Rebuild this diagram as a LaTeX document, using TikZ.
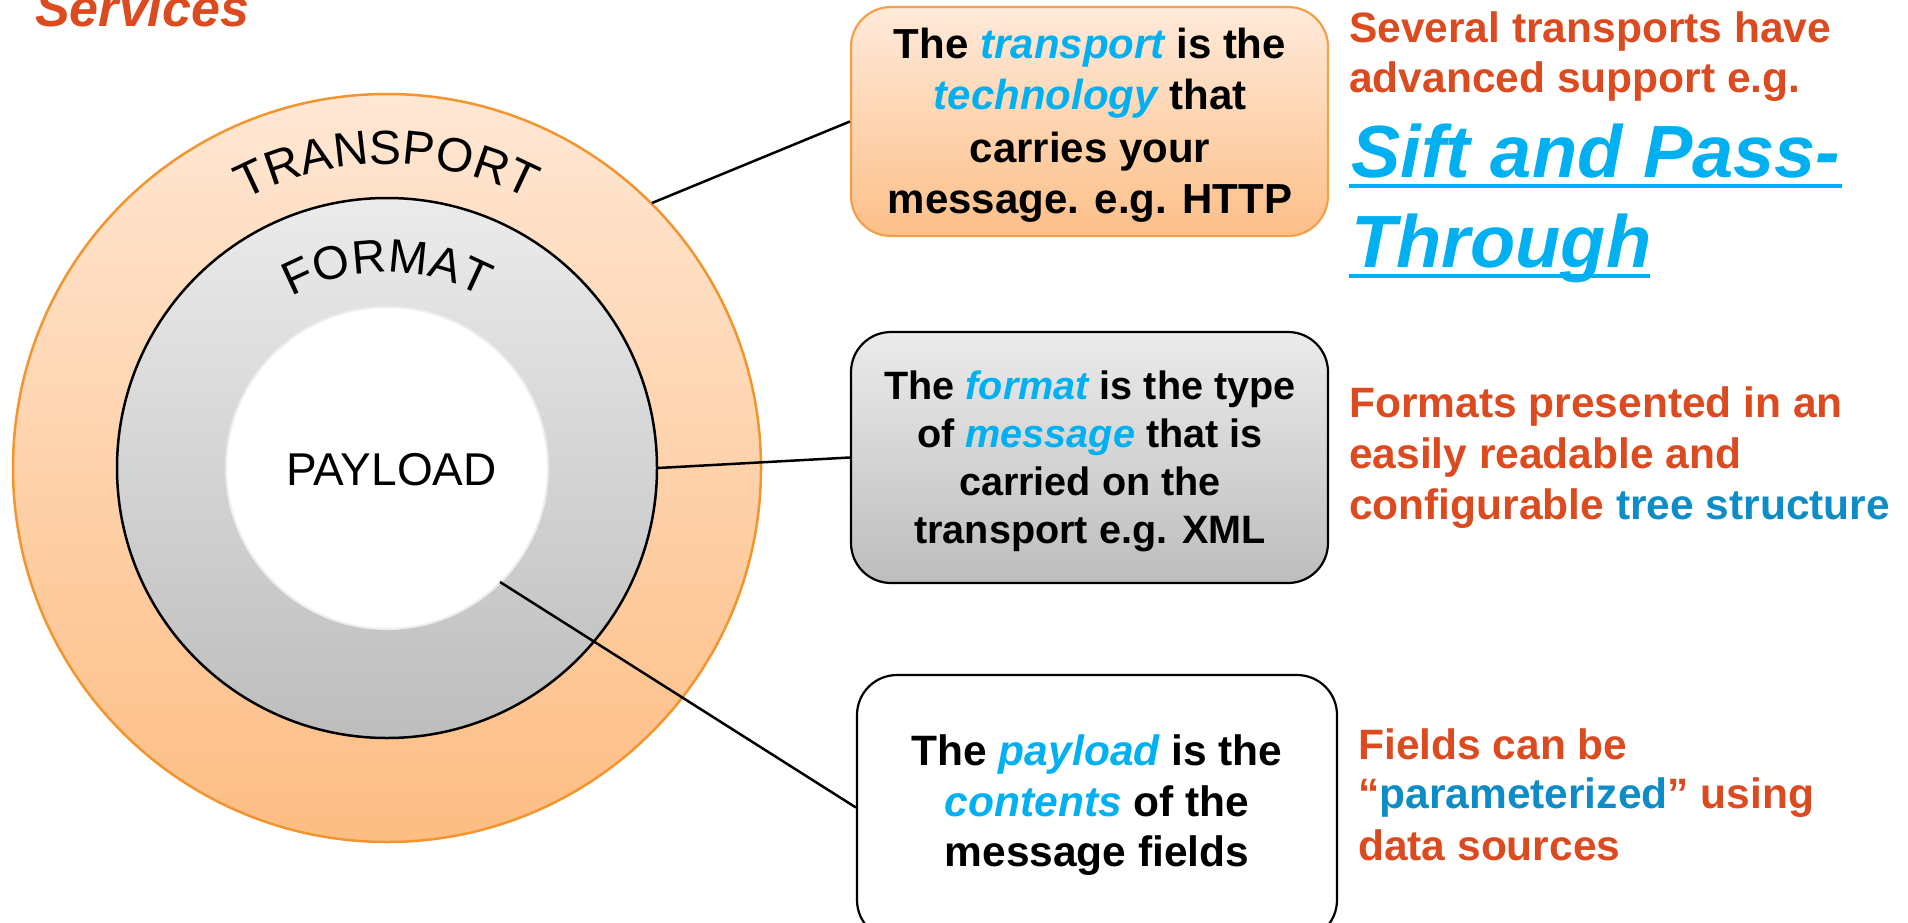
\documentclass[tikz,border=0pt]{standalone}
\usepackage{fontspec}
\setmainfont{Liberation Sans}
\usetikzlibrary{decorations.text}
\definecolor{orangeT}{HTML}{DC4A1F}
\definecolor{cyanT}{HTML}{00B0F0}
\definecolor{blueT}{HTML}{0D8CC6}
\definecolor{ringStroke}{HTML}{F2952F}
\definecolor{ringTop}{HTML}{FFE7D4}
\definecolor{ringBot}{HTML}{FDBD83}
\definecolor{grayTop}{HTML}{EBEBEB}
\definecolor{grayBot}{HTML}{BDBDBD}
\definecolor{tboxTop}{HTML}{FFEADA}
\definecolor{tboxBot}{HTML}{FCBF88}
\definecolor{tboxStroke}{HTML}{F2A04A}
\newcommand\hlc[1]{\textcolor{cyanT}{\itshape #1}}
\newcommand\hlb[1]{\textcolor{blueT}{#1}}
\begin{document}
\begin{tikzpicture}[x=1pt,y=-1pt,
  conn/.style={draw=black, line width=2.5pt},
  boxshape/.style={rectangle, rounded corners=40pt, line width=2.2pt, inner sep=0pt},
  boxtxt/.style={anchor=base, inner sep=0pt, font=\fontsize{42}{42}\selectfont\bfseries},
  fmttxt/.style={anchor=base, inner sep=0pt, font=\fontsize{39.6}{39.6}\selectfont\bfseries},
  paytxt/.style={anchor=base, inner sep=0pt, font=\fontsize{42.5}{42.5}\selectfont\bfseries},
  sidetxt/.style={anchor=base west, inner sep=0pt, text=orangeT, font=\fontsize{42.5}{42.5}\selectfont\bfseries},
  bigtxt/.style={anchor=base west, inner sep=0pt, text=cyanT, font=\fontsize{74}{74}\selectfont\bfseries\itshape},
  ringlabel/.style={anchor=base, inner sep=0pt, font=\fontsize{46}{46}\selectfont}
]
\useasboundingbox (0,0) rectangle (1908,923);

% circles
\coordinate (c) at (387,468);
\path[draw=ringStroke, line width=2.5pt, top color=ringTop, bottom color=ringBot] (c) circle[radius=374];
\path[draw=black, line width=2.5pt, top color=grayTop, bottom color=grayBot] (c) circle[radius=270];
\path[draw=black!7, line width=2pt, fill=white] (c) circle[radius=161];

% curved labels
\path[decorate, decoration={text along path, text align=center,
   text={|\fontsize{48}{48}\selectfont|TRANSPORT}}]
   (c) ++(240:304) arc[start angle=240, end angle=300, radius=304];
\path[decorate, decoration={text along path, text align=center,
   text={|\fontsize{47}{47}\selectfont|FORMAT}}]
   (c) ++(225:196) arc[start angle=225, end angle=315, radius=196];
\node[ringlabel] (payloadlbl) at (391.5,485) {PAYLOAD};

% title fragment
\node[anchor=base west, inner sep=0pt, text=orangeT, font=\fontsize{52}{52}\selectfont\bfseries\itshape] (services) at (35,27) {Services};

% connector start points
\coordinate (ts) at (652,203);
\coordinate (fs) at (658,468);
\coordinate (ps) at (500,582);

% boxes
\node[boxshape, draw=tboxStroke, top color=tboxTop, bottom color=tboxBot,
      minimum width=477pt, minimum height=229pt] (tbox) at (1089.5,121.5) {};
\node[boxshape, draw=black, top color=grayTop, bottom color=grayBot,
      minimum width=477pt, minimum height=251pt] (fbox) at (1089.5,457.5) {};
\node[boxshape, draw=black, fill=white,
      minimum width=480pt, minimum height=265pt] (pbox) at (1097,807.5) {};

\draw[conn] (ts) -- (tbox.west);
\draw[conn] (fs) -- (fbox.west);
\draw[conn] (ps) -- (pbox.west);

% transport box text
\node[boxtxt] (t1) at (1090,59) {The \hlc{transport} is the};
\node[boxtxt] (t2) at (1090,110) {\hlc{technology} that};
\node[boxtxt] (t3) at (1090,162) {carries your};
\node[boxtxt] (t4) at (1090,213) {message. e.g. HTTP};

% format box text
\node[fmttxt] (f1) at (1090,399) {The \hlc{format} is the type};
\node[fmttxt] (f2) at (1090,447) {of \hlc{message} that is};
\node[fmttxt] (f3) at (1090,495) {carried on the};
\node[fmttxt] (f4) at (1090,543) {transport e.g. XML};

% payload box text
\node[paytxt] (p1) at (1097,765) {The \hlc{payload} is the};
\node[paytxt] (p2) at (1097,816) {\hlc{contents} of the};
\node[paytxt] (p3) at (1097,866) {message fields};

% side notes
\node[sidetxt] (s1) at (1349,43) {Several transports have};
\node[sidetxt] (s2) at (1349,93) {advanced support e.g.};
\node[bigtxt] (s3) at (1351,177) {Sift and Pass-};
\node[bigtxt] (s4) at (1351,267) {Through};
\draw[cyanT, line width=4pt] (s3.base west) ++(-2,9) -- ++(493,0);
\draw[cyanT, line width=4pt] (s4.base west) ++(-2,9) -- ++(301,0);

\node[sidetxt] (m1) at (1349,417) {Formats presented in an};
\node[sidetxt] (m2) at (1349,468) {easily readable and};
\node[sidetxt] (m3) at (1349,519) {configurable \hlb{tree structure}};

\node[sidetxt] (b1) at (1358,759) {Fields can be};
\node[sidetxt] (b2) at (1358,808) {“\hlb{parameterized}” using};
\node[sidetxt] (b3) at (1358,860) {data sources};
\end{tikzpicture}
\end{document}
